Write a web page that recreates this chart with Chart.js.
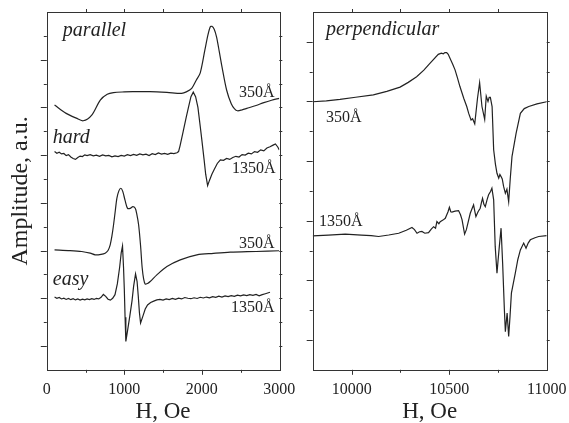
<!DOCTYPE html>
<html>
<head>
<meta charset="utf-8">
<script src="https://cdn.jsdelivr.net/npm/chart.js@4.4.0/dist/chart.umd.min.js"></script>
<style>
html,body{margin:0;background:#fff;overflow:hidden;}
#wrap{position:relative;width:569px;height:423px;overflow:hidden;}
#c1{position:absolute;left:0;top:0;}
#c2{position:absolute;left:296px;top:0;}
</style>
</head>
<body>
<div id="wrap">
<canvas id="c1" width="320" height="423"></canvas>
<canvas id="c2" width="290" height="423"></canvas>
</div>
<script>
// left panel: H from 0 to 3000 Oe
const parX350 = [100, 250, 380, 470, 580, 690, 780, 860, 1000, 1110, 1330, 1550, 1740, 1800, 1870, 1930, 1980, 2040, 2080, 2110, 2130, 2160, 2190, 2225, 2260, 2320, 2380, 2420, 2460, 2520, 2580, 2700, 2800, 2900, 3000];
const parY350 = [11.10, 10.75, 10.55, 10.44, 10.68, 11.31, 11.55, 11.62, 11.65, 11.66, 11.66, 11.63, 11.59, 11.65, 11.80, 12.15, 12.45, 13.41, 14.05, 14.38, 14.40, 14.28, 13.96, 13.35, 12.71, 11.73, 11.15, 10.95, 10.86, 10.90, 10.96, 11.08, 11.20, 11.30, 11.38];

const hardX1350 = [100, 130, 160, 190, 220, 250, 280, 310, 340, 370, 400, 430, 460, 490, 520, 560, 600, 640, 680, 720, 760, 800, 840, 880, 920, 960, 1000, 1040, 1080, 1120, 1160, 1200, 1240, 1280, 1320, 1360, 1400, 1440, 1480, 1520, 1560, 1600, 1640, 1680, 1700, 1720, 1760, 1800, 1830, 1860, 1890, 1920, 1950, 1980, 2000, 2030, 2050, 2075, 2100, 2130, 2160, 2200, 2240, 2280, 2320, 2360, 2400, 2440, 2480, 2520, 2560, 2600, 2640, 2680, 2720, 2760, 2800, 2840, 2880, 2920, 2950, 2980, 3000];
const hardY1350 = [9.15, 9.08, 9.12, 9.05, 9.07, 8.98, 9.02, 8.92, 8.86, 8.82, 8.90, 8.96, 8.94, 9.01, 8.98, 9.02, 8.97, 9.00, 8.95, 9.01, 8.97, 8.99, 8.93, 8.97, 8.94, 8.99, 8.96, 9.02, 8.98, 9.03, 8.99, 9.05, 9.01, 9.04, 8.98, 9.06, 9.02, 9.09, 9.04, 9.07, 9.03, 9.08, 9.06, 9.10, 9.15, 9.40, 10.0, 10.6, 11.03, 11.45, 11.64, 11.45, 11.0, 10.2, 9.65, 8.8, 8.2, 7.72, 7.95, 8.2, 8.4, 8.65, 8.80, 8.78, 8.86, 8.82, 8.90, 8.95, 8.92, 9.02, 9.00, 9.08, 9.05, 9.15, 9.12, 9.22, 9.18, 9.30, 9.35, 9.42, 9.47, 9.34, 9.22];

const easyX350 = [100, 300, 450, 560, 624, 700, 753, 790, 818, 840, 861, 885, 904, 930, 956, 980, 1010, 1042, 1076, 1111, 1141, 1160, 1185, 1210, 1230, 1250, 1270, 1300, 1334, 1420, 1550, 1722, 1937, 2150, 2367, 2700, 3000];
const easyY350 = [5.03, 5.00, 4.96, 4.89, 4.82, 4.84, 4.89, 5.0, 5.24, 5.6, 6.07, 6.7, 7.19, 7.5, 7.61, 7.48, 7.1, 6.77, 6.77, 6.84, 6.77, 6.55, 6.07, 5.2, 4.3, 3.8, 3.59, 3.62, 3.70, 3.98, 4.33, 4.61, 4.82, 4.88, 4.93, 4.96, 4.99];

const easyX1350 = [100, 130, 160, 190, 220, 250, 280, 310, 340, 370, 400, 430, 460, 490, 520, 550, 580, 610, 640, 670, 700, 730, 760, 790, 820, 850, 880, 910, 940, 960, 977, 990, 1000, 1010, 1020, 1040, 1070, 1100, 1120, 1145, 1165, 1180, 1195, 1210, 1240, 1270, 1300, 1340, 1380, 1420, 1460, 1500, 1540, 1580, 1620, 1660, 1700, 1740, 1780, 1820, 1860, 1900, 1940, 1980, 2020, 2060, 2100, 2140, 2180, 2220, 2260, 2300, 2340, 2380, 2420, 2460, 2500, 2540, 2580, 2620, 2660, 2700, 2740, 2780, 2820, 2850, 2880];
const easyY1350 = [3.05, 3.00, 3.03, 2.97, 3.00, 2.95, 2.99, 2.94, 2.98, 2.93, 2.97, 2.92, 2.96, 2.93, 2.97, 2.94, 2.98, 2.95, 2.99, 2.97, 3.04, 3.16, 3.08, 2.96, 2.92, 3.00, 3.15, 3.6, 4.3, 4.9, 5.19, 4.3, 3.4, 2.2, 1.19, 1.6, 2.23, 2.9, 3.5, 4.02, 3.7, 3.1, 2.4, 1.96, 2.25, 2.55, 2.72, 2.82, 2.88, 2.93, 2.95, 2.92, 2.97, 2.94, 2.99, 2.95, 3.00, 2.97, 3.03, 3.00, 2.98, 3.02, 2.99, 3.04, 3.01, 3.05, 3.02, 3.07, 3.04, 3.09, 3.05, 3.10, 3.07, 3.11, 3.08, 3.13, 3.10, 3.14, 3.11, 3.15, 3.12, 3.16, 3.10, 3.15, 3.19, 3.22, 3.25];

// right panel: H from 9800 to 11000 Oe
const perpX350 = [9800, 9870, 9940, 10020, 10111, 10180, 10248, 10290, 10333, 10370, 10401, 10444, 10460, 10470, 10478, 10487, 10495, 10504, 10518, 10530, 10542, 10555, 10575, 10590, 10600, 10612, 10620, 10631, 10645, 10656, 10668, 10682, 10690, 10699, 10705, 10711, 10720, 10728, 10737, 10745, 10754, 10760, 10766, 10772, 10779, 10788, 10796, 10805, 10813, 10822, 10843, 10865, 10885, 10908, 10950, 11000];
const perpY350 = [8.99, 9.02, 9.07, 9.14, 9.22, 9.34, 9.48, 9.64, 9.83, 10.05, 10.28, 10.58, 10.62, 10.60, 10.64, 10.64, 10.58, 10.45, 10.25, 10.06, 9.80, 9.50, 9.10, 8.83, 8.60, 8.38, 8.42, 8.25, 9.10, 9.63, 8.83, 8.40, 9.18, 9.00, 9.14, 9.14, 8.83, 7.38, 6.90, 6.59, 6.43, 6.55, 6.48, 6.40, 6.15, 5.92, 6.06, 5.64, 6.40, 7.15, 7.93, 8.60, 8.76, 8.83, 8.92, 8.99];

const perpX1350 = [9800, 9880, 9967, 10050, 10100, 10138, 10190, 10241, 10280, 10309, 10322, 10335, 10348, 10360, 10375, 10394, 10408, 10420, 10430, 10437, 10447, 10454, 10468, 10480, 10494, 10501, 10508, 10514, 10530, 10548, 10558, 10566, 10579, 10588, 10596, 10608, 10617, 10625, 10632, 10637, 10648, 10659, 10665, 10671, 10678, 10685, 10694, 10702, 10712, 10719, 10728, 10736, 10745, 10751, 10757, 10766, 10774, 10783, 10788, 10797, 10805, 10812, 10819, 10839, 10852, 10865, 10882, 10894, 10905, 10916, 10940, 10959, 11000];
const perpY1350 = [4.49, 4.52, 4.55, 4.52, 4.50, 4.47, 4.52, 4.58, 4.68, 4.77, 4.70, 4.58, 4.63, 4.64, 4.58, 4.60, 4.72, 4.80, 4.75, 4.97, 4.90, 4.97, 5.02, 5.08, 5.30, 5.45, 5.30, 5.29, 5.32, 5.34, 5.20, 5.03, 4.55, 4.70, 4.92, 5.25, 5.40, 5.53, 5.30, 5.14, 5.30, 5.42, 5.60, 5.75, 5.55, 5.47, 5.70, 5.87, 5.98, 6.09, 5.70, 4.13, 3.24, 3.70, 4.13, 4.75, 3.58, 2.01, 1.28, 1.90, 1.12, 1.80, 2.57, 3.24, 3.70, 4.02, 4.25, 4.08, 4.25, 4.36, 4.43, 4.47, 4.50];

const leftTicks = [0, 500, 1000, 1500, 2000, 2500, 3000];
const leftTickLabels = [0, 1000, 2000, 3000];
const rightTicks = [10000, 10250, 10500, 10750, 11000];
const rightTickLabels = [10000, 10500, 11000];

const leftTexts = [
  {text: 'parallel', x: 207, y: 13.99, italic: true},
  {text: 'hard', x: 77, y: 9.51, italic: true},
  {text: 'easy', x: 77, y: 3.56, italic: true},
  {text: '350Å', x: 2480, y: 11.44},
  {text: '1350Å', x: 2389, y: 8.25},
  {text: '350Å', x: 2480, y: 5.11},
  {text: '1350Å', x: 2376, y: 2.43}
];
const rightTexts = [
  {text: 'perpendicular', x: 9868, y: 11.23, italic: true},
  {text: '350Å', x: 9868, y: 8.31},
  {text: '1350Å', x: 9832, y: 4.83}
];

const ink = '#222';
const serif = "'Liberation Serif', 'Times New Roman', serif";

function pts(xs, ys) {
  return xs.map((x, i) => ({x: x, y: ys[i]}));
}

function line(xs, ys, tension) {
  return {
    data: pts(xs, ys),
    borderColor: ink,
    borderWidth: 1.2,
    pointRadius: 0,
    tension: tension,
    fill: false
  };
}

const framePlugin = {
  id: 'frame',
  afterDraw(chart, args, opts) {
    const ctx = chart.ctx;
    const a = chart.chartArea;
    const xs = chart.scales.x, ys = chart.scales.y;
    ctx.save();
    ctx.strokeStyle = '#333';
    ctx.lineWidth = 1;
    ctx.strokeRect(Math.round(a.left) + 0.5, Math.round(a.top) + 0.5,
      Math.round(a.right - a.left), Math.round(a.bottom - a.top));
    ctx.beginPath();
    xs.ticks.forEach(t => {
      if (t.value <= xs.min || t.value >= xs.max) return;
      const px = Math.round(xs.getPixelForValue(t.value)) + 0.5;
      const len = t.value % opts.xMajor === 0 ? 5 : 3;
      ctx.moveTo(px, a.bottom); ctx.lineTo(px, a.bottom + len);
      ctx.moveTo(px, a.top); ctx.lineTo(px, a.top - 3);
    });
    ys.ticks.forEach(t => {
      if (t.value <= ys.min || t.value >= ys.max) return;
      const py = Math.round(ys.getPixelForValue(t.value)) + 0.5;
      const len = t.value % 2 === 1 ? 6 : 3;
      ctx.moveTo(a.left, py); ctx.lineTo(a.left - len, py);
      ctx.moveTo(a.right, py); ctx.lineTo(a.right + 3, py);
    });
    ctx.stroke();
    ctx.fillStyle = ink;
    ctx.textBaseline = 'alphabetic';
    ctx.textAlign = 'left';
    opts.texts.forEach(l => {
      ctx.font = l.italic ? 'italic 20px ' + serif : '16px ' + serif;
      ctx.fillText(l.text, xs.getPixelForValue(l.x), ys.getPixelForValue(l.y));
    });
    ctx.restore();
  }
};

function makeChart(id, datasets, xmin, xmax, tickVals, labels, ymax, yTitle, pad, frameOpts) {
  return new Chart(document.getElementById(id), {
    type: 'line',
    data: {datasets: datasets},
    plugins: [framePlugin],
    options: {
      responsive: false,
      animation: false,
      events: [],
      layout: {padding: pad},
      plugins: {legend: {display: false}, tooltip: {enabled: false}, frame: frameOpts},
      scales: {
        x: {
          type: 'linear', min: xmin, max: xmax,
          afterBuildTicks: axis => { axis.ticks = tickVals.map(v => ({value: v})); },
          grid: {display: false, drawTicks: false},
          border: {display: false},
          ticks: {
            autoSkip: false, maxRotation: 0, padding: 10,
            color: ink, font: {family: serif, size: 16},
            callback: v => labels.includes(v) ? String(v) : ''
          },
          title: {display: true, text: 'H, Oe', color: ink,
            font: {family: serif, size: 23, lineHeight: 1}, padding: {top: -9, bottom: 0}}
        },
        y: {
          type: 'linear', min: 0, max: ymax,
          grid: {display: false, drawTicks: false},
          border: {display: false},
          ticks: {stepSize: 1, display: false},
          title: {display: !!yTitle, text: yTitle, color: ink,
            font: {family: serif, size: 24, lineHeight: 1.2}, padding: {top: 4, bottom: 12}}
        }
      }
    }
  });
}

makeChart('c1', [
  line(parX350, parY350, 0.3),
  line(hardX1350, hardY1350, 0),
  line(easyX350, easyY350, 0.3),
  line(easyX1350, easyY1350, 0)
], 0, 3000, leftTicks, leftTickLabels, 15, 'Amplitude, a.u.',
  {left: 2, right: 40.7, top: 12, bottom: 0},
  {xMajor: 1000, texts: leftTexts});

makeChart('c2', [
  line(perpX350, perpY350, 0),
  line(perpX1350, perpY1350, 0)
], 9800, 11000, rightTicks, rightTickLabels, 12, '',
  {left: 16.7, right: 39.3, top: 12, bottom: 0},
  {xMajor: 500, texts: rightTexts});
</script>
</body>
</html>
